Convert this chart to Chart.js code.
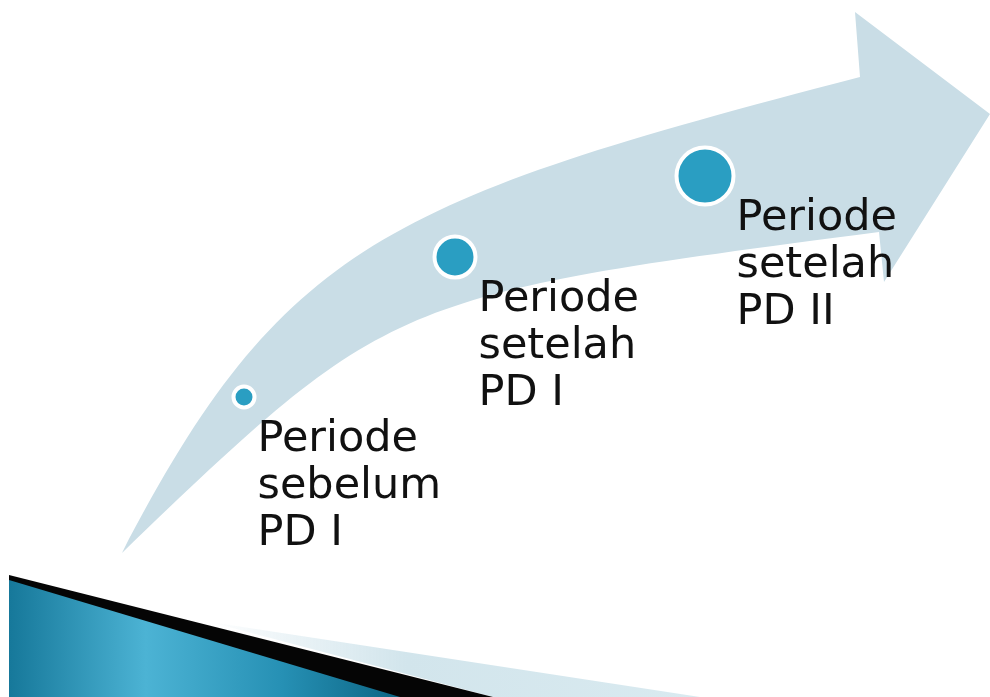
<!DOCTYPE html>
<html>
<head>
<meta charset="utf-8">
<script src="https://cdn.jsdelivr.net/npm/chart.js@4/dist/chart.umd.min.js"></script>
<style>
  html, body { margin: 0; padding: 0; background: #fff; }
  #wrap { width: 990px; height: 697px; }
</style>
</head>
<body>
<div id="wrap"><canvas id="chart" width="990" height="697"></canvas></div>
<script>
// tahapan (titik pada panah)
const stageLines = [
  ['Periode', 'sebelum', 'PD I'],
  ['Periode', 'setelah', 'PD I'],
  ['Periode', 'setelah', 'PD II'],
];
const stageX = [244, 455, 705];
const stageY = [397, 257, 176];
const stageSize = [10.5, 20.5, 28.5];

// panah lengkung (hiasan latar): tepi atas & bawah sebagai kurva bezier
const arrowTop = [[122, 553], [282, 245], [387, 200], [860, 77]];
const arrowHead = [[855, 12], [990, 114], [884, 282], [879, 232]];
const arrowBottom = [[879, 232], [390, 296], [390, 296], [122, 553]];

const points = stageX.map((x, i) => ({ x: x, y: stageY[i], r: stageSize[i] }));

const polygon = (ctx, pts) => {
  ctx.beginPath();
  pts.forEach((p, i) => i ? ctx.lineTo(p[0], p[1]) : ctx.moveTo(p[0], p[1]));
  ctx.closePath();
};

const backdrop = {
  id: 'backdrop',
  beforeDatasetsDraw(chart) {
    const { ctx, scales: { x, y } } = chart;
    const px = p => [x.getPixelForValue(p[0]), y.getPixelForValue(p[1])];
    ctx.save();

    // panah biru muda
    const top = arrowTop.map(px);
    const bottom = arrowBottom.map(px);
    ctx.beginPath();
    ctx.moveTo(top[0][0], top[0][1]);
    ctx.bezierCurveTo(top[1][0], top[1][1], top[2][0], top[2][1], top[3][0], top[3][1]);
    arrowHead.map(px).forEach(p => ctx.lineTo(p[0], p[1]));
    ctx.lineTo(bottom[0][0], bottom[0][1]);
    ctx.bezierCurveTo(bottom[1][0], bottom[1][1], bottom[2][0], bottom[2][1], bottom[3][0], bottom[3][1]);
    ctx.closePath();
    ctx.fillStyle = '#c9dde6';
    ctx.fill();

    // baji biru di kiri bawah
    const light = [[210, 622], [700, 697], [493, 697]].map(px);
    polygon(ctx, light);
    const lg = ctx.createLinearGradient(light[0][0], 0, light[1][0], 0);
    lg.addColorStop(0, 'rgba(205,226,235,0)');
    lg.addColorStop(0.4, '#d2e5ec');
    lg.addColorStop(1, '#d9eaf0');
    ctx.fillStyle = lg;
    ctx.fill();

    polygon(ctx, [[9, 575], [493, 697], [9, 697]].map(px));
    ctx.fillStyle = '#050505';
    ctx.fill();

    const teal = [[9, 580], [400, 697], [9, 697]].map(px);
    polygon(ctx, teal);
    const tg = ctx.createLinearGradient(teal[0][0], 0, teal[1][0], 0);
    tg.addColorStop(0, '#16789a');
    tg.addColorStop(0.35, '#4cb3d4');
    tg.addColorStop(0.7, '#2690b4');
    tg.addColorStop(1, '#0c6584');
    ctx.fillStyle = tg;
    ctx.fill();

    ctx.restore();
  },
};

const stageLabels = {
  id: 'stageLabels',
  afterDatasetsDraw(chart) {
    const { ctx } = chart;
    const meta = chart.getDatasetMeta(0);
    ctx.save();
    ctx.font = '43px "DejaVu Sans"';
    ctx.fillStyle = '#111';
    ctx.textBaseline = 'alphabetic';
    meta.data.forEach((el, i) => {
      const left = el.x + stageSize[i] + 3;
      stageLines[i].forEach((line, j) => {
        ctx.fillText(line, left, el.y + 54 + j * 47);
      });
    });
    ctx.restore();
  },
};

new Chart(document.getElementById('chart').getContext('2d'), {
  type: 'bubble',
  data: {
    datasets: [{
      data: points,
      backgroundColor: '#2a9ec2',
      borderColor: '#ffffff',
      borderWidth: 4,
      clip: false,
    }],
  },
  options: {
    responsive: false,
    animation: false,
    events: [],
    layout: { padding: 0, autoPadding: false },
    plugins: {
      legend: { display: false },
      tooltip: { enabled: false },
    },
    scales: {
      x: { type: 'linear', min: 0, max: 990, display: false },
      y: { type: 'linear', min: 0, max: 697, reverse: true, display: false },
    },
  },
  plugins: [backdrop, stageLabels],
});
</script>
</body>
</html>
